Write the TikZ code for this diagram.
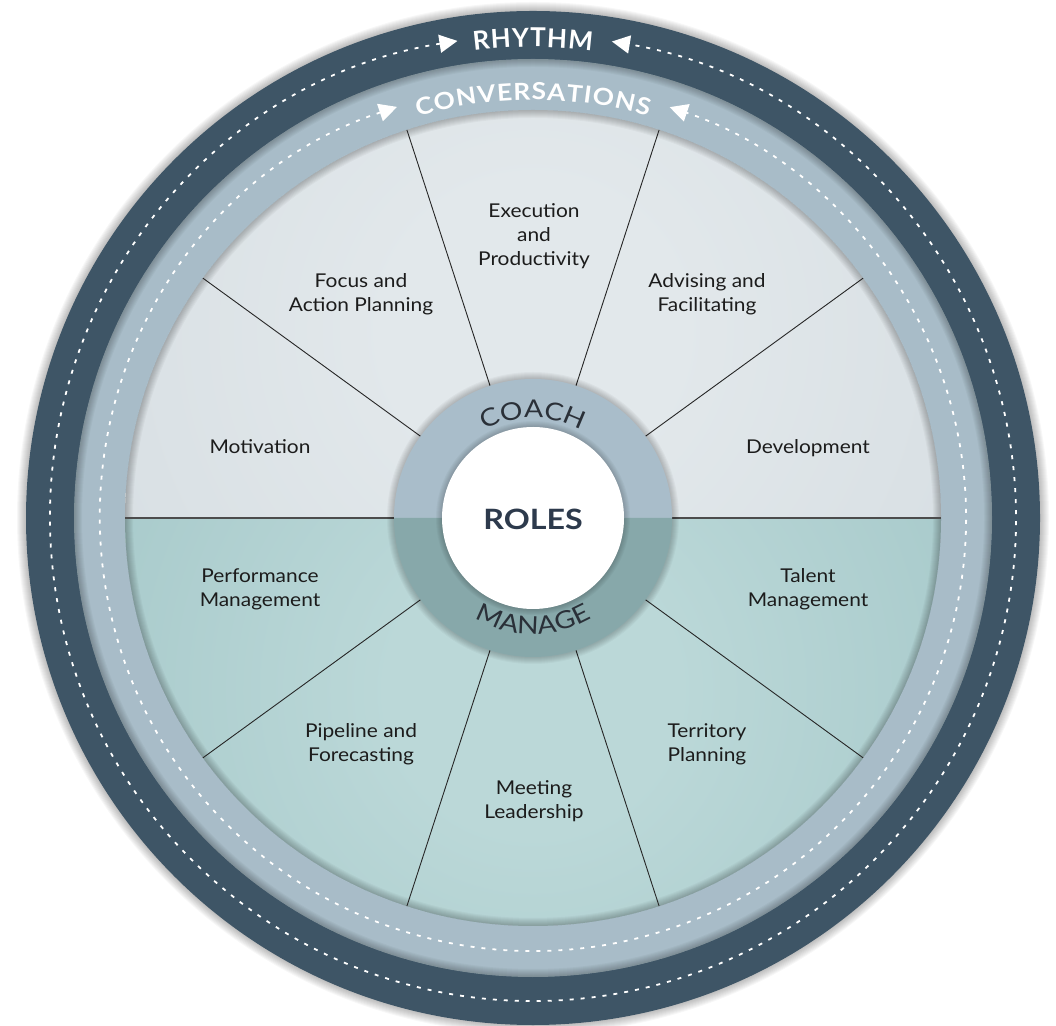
\documentclass[tikz,border=0pt]{standalone}
\usepackage{fontspec}
\setmainfont{Lato}
\newfontfamily\lblfont[FakeStretch=1.1]{Lato}
\newfontfamily\wideringfont[FakeStretch=1.15]{Lato}
\newfontfamily\convfamily[FakeStretch=1.12]{Lato}
\usetikzlibrary{decorations.text,arrows.meta}
\definecolor{darkring}{HTML}{3E5566}
\definecolor{lightring}{HTML}{A8BCC8}
\definecolor{toplight}{HTML}{E2E8EB}
\definecolor{topdark}{HTML}{CBD4DA}
\definecolor{botlight}{HTML}{BBD8D8}
\definecolor{botdark}{HTML}{8FB8BA}
\definecolor{coachtop}{HTML}{A9BDCA}
\definecolor{coachbot}{HTML}{87A8AA}
\definecolor{rolescol}{HTML}{2D3A4C}
\definecolor{labelcol}{HTML}{1C1C1C}
\definecolor{ringtext}{HTML}{2A3038}
\pgfdeclareradialshading{topshade}{\pgfpoint{0bp}{0bp}}{color(0bp)=(toplight); color(8bp)=(toplight); color(50bp)=(topdark)}
\pgfdeclareradialshading{botshade}{\pgfpoint{0bp}{0bp}}{color(0bp)=(botlight); color(8bp)=(botlight); color(50bp)=(botdark)}
\newcommand\rhythmfont{\bfseries\fontsize{26}{27}\selectfont}
\newcommand\ringfontA{\wideringfont\fontsize{24.5}{25}\selectfont}
\newcommand\convfont{\convfamily\bfseries\fontsize{23.5}{24}\selectfont}
\begin{document}
\begin{tikzpicture}[x=1pt,y=1pt,
  lbl/.style={align=center, font=\lblfont\fontsize{19}{24}\selectfont, text=labelcol, inner sep=0pt},
  spoke/.style={line width=0.9pt, black!85},
  hline/.style={line width=1.4pt, black!70},
  dashring/.style={white, line width=1.8pt, dash pattern=on 4pt off 7pt,
     {Triangle[length=18pt,width=18pt]}-{Triangle[length=18pt,width=18pt]}},
  shad/.style={black, opacity=0.03}]
\useasboundingbox (0,0) rectangle (1056,1025);
\coordinate (C) at (533,507);
% outer halo
\foreach \w in {2,4,...,18} \draw[shad, line width=\w pt] (C) circle (507);
\fill[darkring] (C) circle (507);
% conversations ring
\fill[lightring] (C) circle (459);
\begin{scope}
  \clip (C) circle (459);
  \foreach \w in {2,4,...,16} \draw[shad, line width=\w pt] (C) circle (459);
\end{scope}
% wedges
\begin{scope}
  \clip ([shift={(0:408)}]C) arc (0:180:408) -- cycle;
  \shade[shading=topshade] (533,695) circle (450);
\end{scope}
\begin{scope}
  \clip ([shift={(180:408)}]C) arc (180:360:408) -- cycle;
  \shade[shading=botshade] (533,335) circle (450);
\end{scope}
\begin{scope}
  \clip (C) circle (408);
  \foreach \w in {2,4,...,16} \draw[shad, line width=\w pt] (C) circle (408);
\end{scope}
% spokes
\foreach \a in {36,72,108,144,216,252,288,324}
  \draw[spoke] ([shift={(\a:139)}]C) -- ([shift={(\a:408)}]C);
\draw[hline] ([shift={(180:408)}]C) -- ([shift={(180:139)}]C);
\draw[hline] ([shift={(0:139)}]C) -- ([shift={(0:408)}]C);
% coach/manage ring
\foreach \w in {2,4,...,14} \draw[shad, line width=\w pt] (C) circle (139);
\fill[coachtop] ([shift={(0:139)}]C) arc (0:180:139) -- cycle;
\fill[coachbot] ([shift={(180:139)}]C) arc (180:360:139) -- cycle;
\foreach \w in {2,4,...,12} \draw[shad, line width=\w pt] (C) circle (91);
\fill[white] (C) circle (91);
\node[font=\wideringfont\bfseries\fontsize{28}{28}\selectfont, text=rolescol] (roles) at (533,506) {ROLES};
% ring texts
\path[decorate, decoration={text along path, text={|\ringfontA|COACH}, text align=center, text color=ringtext}]
  ([shift={(135:100)}]C) arc (135:45:100);
\path[decorate, decoration={text along path, text={|\ringfontA|MANAGE}, text align=center, text color=ringtext}]
  ([shift={(225:116)}]C) arc (225:315:116);
\path[decorate, decoration={text along path, text={|\convfont|CONVERSATIONS}, text align=fit to path, text color=white}]
  ([shift={(106:418)}]C) arc (106:74:418);
\path[decorate, decoration={text along path, text={|\rhythmfont|RHYTHM}, text align=fit to path, text color=white}]
  ([shift={(97.2:471)}]C) arc (97.2:82.8:471);
% dashed rings with arrows
\draw[dashring] ([shift={(99:483)}]C) arc (99:440.6:483);
\draw[dashring] ([shift={(108.3:433)}]C) arc (108.3:431.6:433);
% labels
\node[lbl] (exec) at (534,789) {Execution\\and\\Productivity};
\node[lbl] (focus) at (361,731) {Focus and\\Action Planning};
\node[lbl] (advis) at (707,731) {Advising and\\Facilitating};
\node[lbl] (motiv) at (260,578) {Motivation};
\node[lbl] (devel) at (808,577) {Development};
\node[lbl] (perf) at (260,436) {Performance\\Management};
\node[lbl] (talent) at (808,436) {Talent\\Management};
\node[lbl] (pipe) at (361,281) {Pipeline and\\Forecasting};
\node[lbl] (terr) at (707,281) {Territory\\Planning};
\node[lbl] (meet) at (534,224) {Meeting\\Leadership};
\end{tikzpicture}
\end{document}
